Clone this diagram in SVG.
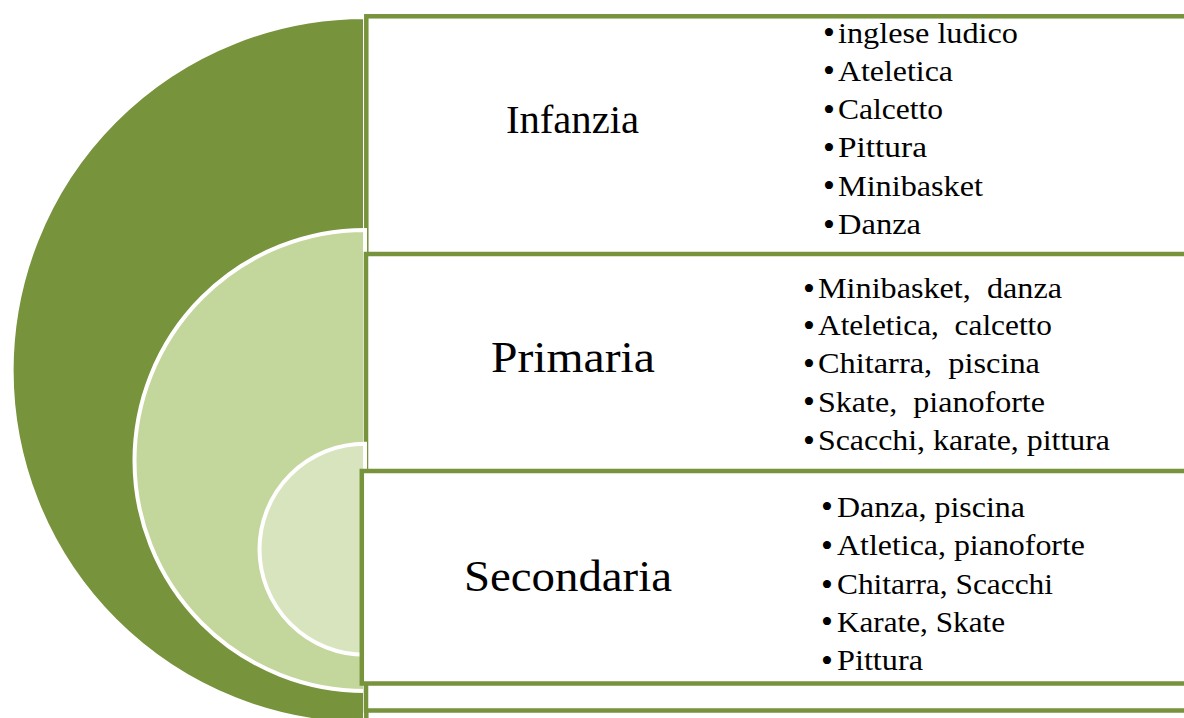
<svg xmlns="http://www.w3.org/2000/svg" width="1184" height="718" viewBox="0 0 1184 718">
<style>
.arc{stroke:#FFFFFF;stroke-width:4;}
.dark{fill:#77933C;}
.mid{fill:#C3D69B;}
.light{fill:#D7E4BD;}
.box{fill:#FFFFFF;stroke:#77933C;stroke-width:4.5;}
.title{font-family:"Liberation Serif","Times New Roman",serif;fill:#000000;}
.item{font-family:"Liberation Serif","Times New Roman",serif;font-size:29px;fill:#000000;white-space:pre;}
.bul{font-size:34px;}
</style>
<rect x="0" y="0" width="1184" height="718" fill="#FFFFFF"/>
<g id="node-infanzia">
  <path class="arc dark" d="M 365 17 A 353.5 353.5 0 0 0 365 724 Z"/>
  <rect class="box" x="366.3" y="16.3" width="840" height="740"/>
  <text class="title" x="506" y="132.5" font-size="40" textLength="133" lengthAdjust="spacingAndGlyphs">Infanzia</text>
  <g class="item">
    <text y="42.5"><tspan class="bul" x="823" dy="1.5">•</tspan><tspan x="838" dy="-1.5" textLength="180" lengthAdjust="spacingAndGlyphs">inglese ludico</tspan></text>
    <text y="80.8"><tspan class="bul" x="823" dy="1.5">•</tspan><tspan x="838" dy="-1.5" textLength="115" lengthAdjust="spacingAndGlyphs">Ateletica</tspan></text>
    <text y="119.1"><tspan class="bul" x="823" dy="1.5">•</tspan><tspan x="838" dy="-1.5" textLength="105" lengthAdjust="spacingAndGlyphs">Calcetto</tspan></text>
    <text y="157.4"><tspan class="bul" x="823" dy="1.5">•</tspan><tspan x="838" dy="-1.5" textLength="89" lengthAdjust="spacingAndGlyphs">Pittura</tspan></text>
    <text y="195.7"><tspan class="bul" x="823" dy="1.5">•</tspan><tspan x="838" dy="-1.5" textLength="145" lengthAdjust="spacingAndGlyphs">Minibasket</tspan></text>
    <text y="234"><tspan class="bul" x="823" dy="1.5">•</tspan><tspan x="838" dy="-1.5" textLength="83" lengthAdjust="spacingAndGlyphs">Danza</tspan></text>
  </g>
</g>
<g id="node-primaria">
  <path class="arc mid" d="M 365 230 A 230.5 230.5 0 0 0 365 691 Z"/>
  <rect class="box" x="366" y="254" width="840" height="456.5"/>
  <text class="title" x="491" y="372" font-size="44" textLength="164" lengthAdjust="spacingAndGlyphs">Primaria</text>
  <g class="item">
    <text xml:space="preserve" y="298.3"><tspan class="bul" x="803" dy="1.5">•</tspan><tspan x="818" dy="-1.5" textLength="244" lengthAdjust="spacingAndGlyphs">Minibasket,  danza</tspan></text>
    <text xml:space="preserve" y="335"><tspan class="bul" x="803" dy="1.5">•</tspan><tspan x="818" dy="-1.5" textLength="234" lengthAdjust="spacingAndGlyphs">Ateletica,  calcetto</tspan></text>
    <text xml:space="preserve" y="373.3"><tspan class="bul" x="803" dy="1.5">•</tspan><tspan x="818" dy="-1.5" textLength="222" lengthAdjust="spacingAndGlyphs">Chitarra,  piscina</tspan></text>
    <text xml:space="preserve" y="411.7"><tspan class="bul" x="803" dy="1.5">•</tspan><tspan x="818" dy="-1.5" textLength="227" lengthAdjust="spacingAndGlyphs">Skate,  pianoforte</tspan></text>
    <text y="450"><tspan class="bul" x="803" dy="1.5">•</tspan><tspan x="818" dy="-1.5" textLength="292" lengthAdjust="spacingAndGlyphs">Scacchi, karate, pittura</tspan></text>
  </g>
</g>
<g id="node-secondaria">
  <path class="arc light" d="M 365 443.8 A 105.5 105.5 0 0 0 365 654.8 Z"/>
  <rect class="box" x="361.8" y="471" width="840" height="212.5"/>
  <text class="title" x="464" y="591" font-size="44" textLength="208" lengthAdjust="spacingAndGlyphs">Secondaria</text>
  <g class="item">
    <text y="516.7"><tspan class="bul" x="821" dy="1.5">•</tspan><tspan x="837" dy="-1.5" textLength="188" lengthAdjust="spacingAndGlyphs">Danza, piscina</tspan></text>
    <text y="555"><tspan class="bul" x="821" dy="1.5">•</tspan><tspan x="837" dy="-1.5" textLength="248" lengthAdjust="spacingAndGlyphs">Atletica, pianoforte</tspan></text>
    <text y="594"><tspan class="bul" x="821" dy="1.5">•</tspan><tspan x="837" dy="-1.5" textLength="216" lengthAdjust="spacingAndGlyphs">Chitarra, Scacchi</tspan></text>
    <text y="631.7"><tspan class="bul" x="821" dy="1.5">•</tspan><tspan x="837" dy="-1.5" textLength="168" lengthAdjust="spacingAndGlyphs">Karate, Skate</tspan></text>
    <text y="670"><tspan class="bul" x="821" dy="1.5">•</tspan><tspan x="837" dy="-1.5" textLength="86" lengthAdjust="spacingAndGlyphs">Pittura</tspan></text>
  </g>
</g>
</svg>
